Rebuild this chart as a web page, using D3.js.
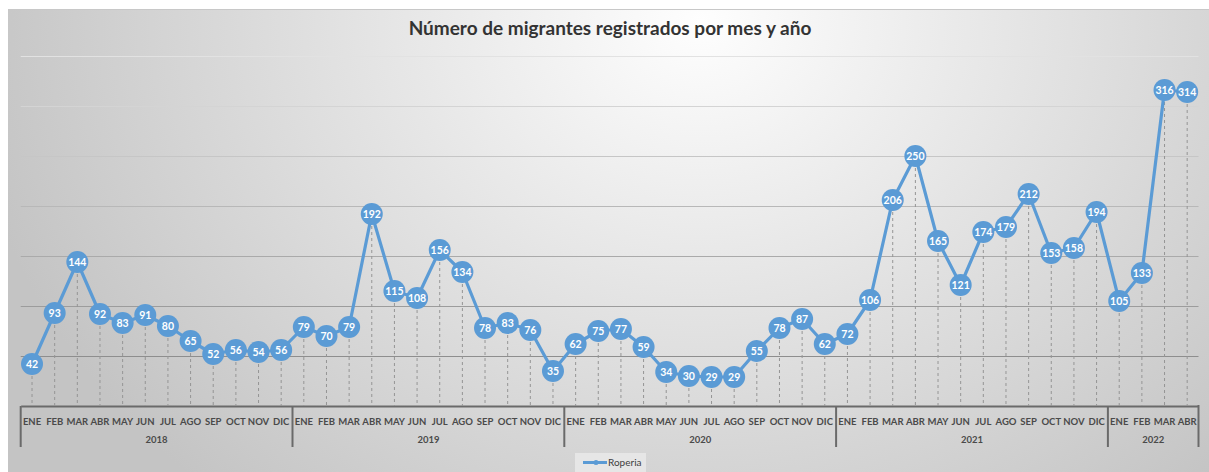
<!DOCTYPE html>
<html>
<head>
<meta charset="utf-8">
<script src="https://cdn.jsdelivr.net/npm/d3@7"></script>
<style>
    body { margin: 0; background: #fff; }
    svg { display: block; }
</style>
</head>
<body>
<svg id="chart"></svg>
<script>
// chart data
const years = ["2018", "2019", "2020", "2021", "2022"];
const monthNames = ["ENE", "FEB", "MAR", "ABR", "MAY", "JUN", "JUL", "AGO", "SEP", "OCT", "NOV", "DIC"];
const monthsPerYear = [12, 12, 12, 12, 4];
const roperia = [
    42, 93, 144, 92, 83, 91, 80, 65, 52, 56, 54, 56,
    79, 70, 79, 192, 115, 108, 156, 134, 78, 83, 76, 35,
    62, 75, 77, 59, 34, 30, 29, 29, 55, 78, 87, 62,
    72, 106, 206, 250, 165, 121, 174, 179, 212, 153, 158, 194,
    105, 133, 316, 314
];
const yTicks = [50, 100, 150, 200, 250, 300, 350];
const seriesName = "Roperia";

class LineChart {
    constructor(_config) {
        this.config = {
            parentElement: _config.parentElement,
            containerWidth: 1209,
            containerHeight: 472,
            plot: { left: 20.7, right: 1198.5, top: 56, bottom: 406 }
        };
        this.initVis();
    }

    initVis() {
        let vis = this;
        const c = vis.config;

        vis.svg = d3.select(c.parentElement)
            .attr("width", c.containerWidth)
            .attr("height", c.containerHeight);

        // one entry per month
        vis.data = [];
        years.forEach((y, yi) => {
            for (let m = 0; m < monthsPerYear[yi]; m++) {
                vis.data.push({ key: y + "-" + m, year: y, month: monthNames[m], value: roperia[vis.data.length] });
            }
        });

        vis.xScale = d3.scaleBand()
            .domain(vis.data.map(d => d.key))
            .range([c.plot.left, c.plot.right]);

        vis.yScale = d3.scaleLinear()
            .domain([0, 350])
            .range([c.plot.bottom, c.plot.top]);

        vis.drawBackground();
        vis.drawGrid();
        vis.drawAxis();
        vis.drawSeries();
        vis.drawLegend();
    }

    drawBackground() {
        let vis = this;
        const defs = vis.svg.append("defs");
        const grad = defs.append("radialGradient")
            .attr("id", "bg-grad")
            .attr("gradientUnits", "userSpaceOnUse")
            .attr("cx", 700).attr("cy", 20).attr("r", 740)
            .attr("gradientTransform", "translate(700,20) scale(1,0.85) translate(-700,-20)");
        grad.append("stop").attr("offset", "0%").attr("stop-color", "#fefefe");
        grad.append("stop").attr("offset", "100%").attr("stop-color", "#c4c4c4");

        vis.svg.append("rect")
            .attr("x", 8).attr("y", 9)
            .attr("width", 1209).attr("height", 472)
            .attr("fill", "url(#bg-grad)");

        vis.svg.append("line")
            .attr("x1", 8).attr("x2", 1209)
            .attr("y1", 9.5).attr("y2", 9.5)
            .attr("stroke", "#c8c8c8");

        vis.svg.append("text")
            .attr("x", 610)
            .attr("y", 35)
            .attr("text-anchor", "middle")
            .style("font-family", "Lato, 'Open Sans', sans-serif")
            .style("font-weight", "bold")
            .style("font-size", "19px")
            .style("fill", "#333")
            .text("Número de migrantes registrados por mes y año");
    }

    drawGrid() {
        let vis = this;
        const c = vis.config;
        const shade = d3.scaleLinear().domain([350, 50]).range(["#e2e2e2", "#8e8e8e"]);

        vis.svg.append("g")
            .selectAll("line")
            .data(yTicks)
            .join("line")
            .attr("x1", c.plot.left)
            .attr("x2", c.plot.right)
            .attr("y1", d => vis.yScale(d) + 0.5)
            .attr("y2", d => vis.yScale(d) + 0.5)
            .attr("stroke", d => shade(d))
            .attr("stroke-width", 1.2);
    }

    drawAxis() {
        let vis = this;
        const c = vis.config;
        const axisColor = "#6a6a6a";

        const axisG = vis.svg.append("g")
            .attr("transform", `translate(0,${c.plot.bottom})`);

        axisG.call(d3.axisBottom(vis.xScale).tickSize(0).tickFormat(k => vis.data.find(d => d.key === k).month));
        axisG.select(".domain")
            .attr("stroke", axisColor)
            .attr("stroke-width", 2);
        axisG.selectAll(".tick text")
            .attr("y", 12)
            .style("font-family", "Lato, 'Open Sans', sans-serif")
            .style("font-weight", "bold")
            .style("font-size", "9.5px")
            .style("fill", "#4a4a4a");

        // year separators and labels
        let start = 0;
        years.forEach((y, yi) => {
            const first = vis.data[start].key;
            const last = vis.data[start + monthsPerYear[yi] - 1].key;
            const x0 = vis.xScale(first);
            const x1 = vis.xScale(last) + vis.xScale.bandwidth();

            vis.svg.append("line")
                .attr("x1", x0).attr("x2", x0)
                .attr("y1", c.plot.bottom).attr("y2", c.plot.bottom + 41)
                .attr("stroke", axisColor).attr("stroke-width", 2);

            vis.svg.append("text")
                .attr("x", (x0 + x1) / 2)
                .attr("y", c.plot.bottom + 37)
                .attr("text-anchor", "middle")
                .style("font-family", "Lato, 'Open Sans', sans-serif")
                .style("font-weight", "bold")
                .style("font-size", "9.5px")
                .style("fill", "#4a4a4a")
                .text(y);

            start += monthsPerYear[yi];
        });
        vis.svg.append("line")
            .attr("x1", c.plot.right).attr("x2", c.plot.right)
            .attr("y1", c.plot.bottom - 1).attr("y2", c.plot.bottom + 41)
            .attr("stroke", axisColor).attr("stroke-width", 2);
    }

    drawSeries() {
        let vis = this;
        const c = vis.config;
        const blue = "#5b9bd5";
        const cx = d => vis.xScale(d.key) + vis.xScale.bandwidth() / 2;

        // dashed drop lines
        vis.svg.append("g")
            .selectAll("line")
            .data(vis.data)
            .join("line")
            .attr("x1", cx).attr("x2", cx)
            .attr("y1", d => vis.yScale(d.value))
            .attr("y2", c.plot.bottom)
            .attr("stroke", "#959595")
            .attr("stroke-width", 1)
            .attr("stroke-dasharray", "3,3");

        const line = d3.line()
            .x(cx)
            .y(d => vis.yScale(d.value));

        vis.svg.append("path")
            .datum(vis.data)
            .attr("d", line)
            .attr("fill", "none")
            .attr("stroke", blue)
            .attr("stroke-width", 3.2)
            .attr("stroke-linejoin", "round");

        const pts = vis.svg.append("g")
            .selectAll("g")
            .data(vis.data)
            .join("g")
            .attr("transform", d => `translate(${cx(d)},${vis.yScale(d.value)})`);

        pts.append("circle")
            .attr("r", 11)
            .attr("fill", blue);

        pts.append("text")
            .attr("y", 4)
            .attr("text-anchor", "middle")
            .style("font-family", "Lato, 'Open Sans', sans-serif")
            .style("font-weight", "bold")
            .style("font-size", "10.5px")
            .style("fill", "#fff")
            .text(d => d.value);
    }

    drawLegend() {
        let vis = this;
        const lx = 575, ly = 453;

        vis.svg.append("rect")
            .attr("x", lx).attr("y", ly)
            .attr("width", 71).attr("height", 19)
            .attr("fill", "#e6e6e6");

        vis.svg.append("line")
            .attr("x1", lx + 8).attr("x2", lx + 32)
            .attr("y1", ly + 9.5).attr("y2", ly + 9.5)
            .attr("stroke", "#5b9bd5")
            .attr("stroke-width", 3);

        vis.svg.append("circle")
            .attr("cx", lx + 21).attr("cy", ly + 9.5)
            .attr("r", 2.5)
            .attr("fill", "#5b9bd5");

        vis.svg.append("text")
            .attr("x", lx + 33)
            .attr("y", ly + 13)
            .style("font-family", "Lato, 'Open Sans', sans-serif")
            .style("font-size", "10px")
            .style("fill", "#404040")
            .text(seriesName);
    }
}

new LineChart({ parentElement: "#chart" });
</script>
</body>
</html>
